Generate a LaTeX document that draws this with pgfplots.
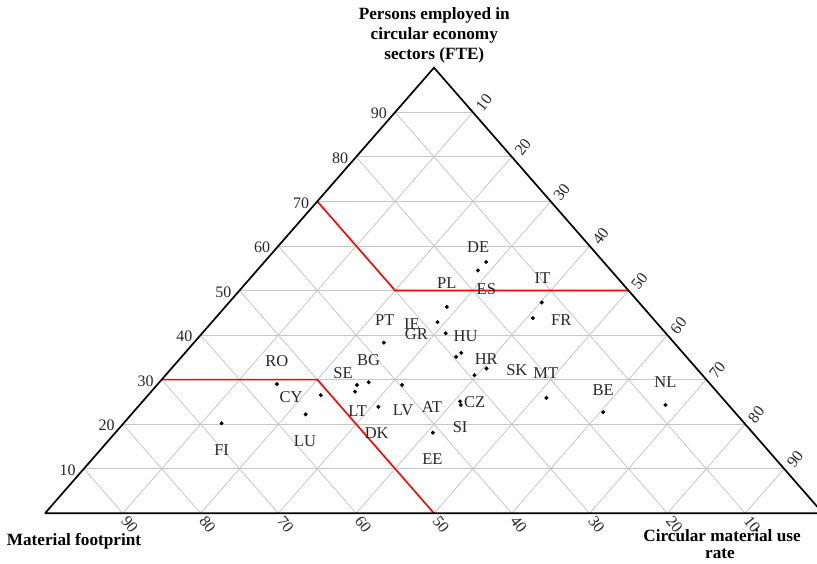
\documentclass[border=0pt]{standalone}
\usepackage{fontspec}
\setmainfont{Liberation Serif}
\usepackage{pgfplots}
\pgfplotsset{compat=1.18}
\usepackage{pgfplotstable}

% P = persons employed (%), C = circular material use rate (%), MF = 100-P-C
% dx, dy = label offset from the dot (pt)
\pgfplotstableread{
name P C dx dy
DE 56.4 28.5 -8 15.3
ES 54.5 28.4 8.4 -19
PL 46.3 28.5 0 23.7
IT 47.3 40.2 0.6 24.4
FR 43.8 40.8 28.4 -2.4
IE 42.9 29.0 -25.6 -1.7
GR 40.4 31.3 -29.3 -1
HU 36.0 35.5 4.3 17
AT 35.1 35.3 -24.3 -50
HR 32.5 40.5 -0.3 9
SK 31.0 39.7 42.4 4.6
PT 38.3 24.4 1 22.7
MT 25.9 51.5 -0.7 24.4
CZ 25.1 40.8 14.5 -0.5
SI 24.3 41.3 -0.7 -22.3
RO 29.0 15.3 0 23.3
CY 26.5 22.2 -29.8 -1.7
LU 22.2 22.4 -0.7 -26.4
SE 28.8 25.7 -14 11.7
DK 27.3 26.2 21.7 -41.6
BG 29.4 26.9 0 22.3
LT 23.9 30.9 -20.7 -4.7
LV 28.8 31.5 1 -25.7
EE 18.1 40.8 -0.4 -26.6
FI 20.2 12.6 0 -26.7
BE 22.7 60.4 0 22.3
NL 24.3 67.6 0 23.3
}\eudata

\begin{document}
\begin{tikzpicture}
\begin{axis}[
  at={(0pt,0pt)}, anchor=south west,
  scale only axis, width=778pt, height=445.6pt,
  xmin=0, xmax=100, ymin=0, ymax=100,
  hide axis, clip=false,
]
% grid: persons employed = const
\addplot[gray!45, line width=0.8pt, forget plot] coordinates {(5,10)(95,10)};
\addplot[gray!45, line width=0.8pt, forget plot] coordinates {(10,20)(90,20)};
\addplot[gray!45, line width=0.8pt, forget plot] coordinates {(15,30)(85,30)};
\addplot[gray!45, line width=0.8pt, forget plot] coordinates {(20,40)(80,40)};
\addplot[gray!45, line width=0.8pt, forget plot] coordinates {(25,50)(75,50)};
\addplot[gray!45, line width=0.8pt, forget plot] coordinates {(30,60)(70,60)};
\addplot[gray!45, line width=0.8pt, forget plot] coordinates {(35,70)(65,70)};
\addplot[gray!45, line width=0.8pt, forget plot] coordinates {(40,80)(60,80)};
\addplot[gray!45, line width=0.8pt, forget plot] coordinates {(45,90)(55,90)};
% grid: circular material use rate = const
\addplot[gray!45, line width=0.8pt, forget plot] coordinates {(10,0)(55,90)};
\addplot[gray!45, line width=0.8pt, forget plot] coordinates {(20,0)(60,80)};
\addplot[gray!45, line width=0.8pt, forget plot] coordinates {(30,0)(65,70)};
\addplot[gray!45, line width=0.8pt, forget plot] coordinates {(40,0)(70,60)};
\addplot[gray!45, line width=0.8pt, forget plot] coordinates {(50,0)(75,50)};
\addplot[gray!45, line width=0.8pt, forget plot] coordinates {(60,0)(80,40)};
\addplot[gray!45, line width=0.8pt, forget plot] coordinates {(70,0)(85,30)};
\addplot[gray!45, line width=0.8pt, forget plot] coordinates {(80,0)(90,20)};
\addplot[gray!45, line width=0.8pt, forget plot] coordinates {(90,0)(95,10)};
% grid: material footprint = const
\addplot[gray!45, line width=0.8pt, forget plot] coordinates {(10,0)(5,10)};
\addplot[gray!45, line width=0.8pt, forget plot] coordinates {(20,0)(10,20)};
\addplot[gray!45, line width=0.8pt, forget plot] coordinates {(30,0)(15,30)};
\addplot[gray!45, line width=0.8pt, forget plot] coordinates {(40,0)(20,40)};
\addplot[gray!45, line width=0.8pt, forget plot] coordinates {(50,0)(25,50)};
\addplot[gray!45, line width=0.8pt, forget plot] coordinates {(60,0)(30,60)};
\addplot[gray!45, line width=0.8pt, forget plot] coordinates {(70,0)(35,70)};
\addplot[gray!45, line width=0.8pt, forget plot] coordinates {(80,0)(40,80)};
\addplot[gray!45, line width=0.8pt, forget plot] coordinates {(90,0)(45,90)};
% red threshold lines
\addplot[red, line width=1.6pt, forget plot] coordinates {(35,70)(45,50)(75,50)};
\addplot[red, line width=1.6pt, forget plot] coordinates {(15,30)(35,30)(50,0)};
% triangle
\addplot[black, line width=1.7pt, forget plot] coordinates {(0,0)(50,100)(100,0)(0,0)};

% tick labels
\begin{scope}[font=\fontsize{16}{18}\selectfont, text=black!85]
% left edge (persons employed)
\path (5,10) ++(-8pt,-1.5pt) node[anchor=east, inner sep=0pt]{10};
\path (10,20) ++(-8pt,-1.5pt) node[anchor=east, inner sep=0pt]{20};
\path (15,30) ++(-8pt,-1.5pt) node[anchor=east, inner sep=0pt]{30};
\path (20,40) ++(-8pt,-1.5pt) node[anchor=east, inner sep=0pt]{40};
\path (25,50) ++(-8pt,-1.5pt) node[anchor=east, inner sep=0pt]{50};
\path (30,60) ++(-8pt,-1.5pt) node[anchor=east, inner sep=0pt]{60};
\path (35,70) ++(-8pt,-1.5pt) node[anchor=east, inner sep=0pt]{70};
\path (40,80) ++(-8pt,-1.5pt) node[anchor=east, inner sep=0pt]{80};
\path (45,90) ++(-8pt,-1.5pt) node[anchor=east, inner sep=0pt]{90};
% right edge (circular material use rate)
\path (55,90) ++(11pt,9.5pt) node[rotate=52, inner sep=0pt]{10};
\path (60,80) ++(11pt,9.5pt) node[rotate=52, inner sep=0pt]{20};
\path (65,70) ++(11pt,9.5pt) node[rotate=52, inner sep=0pt]{30};
\path (70,60) ++(11pt,9.5pt) node[rotate=52, inner sep=0pt]{40};
\path (75,50) ++(11pt,9.5pt) node[rotate=52, inner sep=0pt]{50};
\path (80,40) ++(11pt,9.5pt) node[rotate=52, inner sep=0pt]{60};
\path (85,30) ++(11pt,9.5pt) node[rotate=52, inner sep=0pt]{70};
\path (90,20) ++(11pt,9.5pt) node[rotate=52, inner sep=0pt]{80};
\path (95,10) ++(11pt,9.5pt) node[rotate=52, inner sep=0pt]{90};
% bottom edge (material footprint)
\path (10,0) ++(7pt,-11pt) node[rotate=-52, inner sep=0pt]{90};
\path (20,0) ++(7pt,-11pt) node[rotate=-52, inner sep=0pt]{80};
\path (30,0) ++(7pt,-11pt) node[rotate=-52, inner sep=0pt]{70};
\path (40,0) ++(7pt,-11pt) node[rotate=-52, inner sep=0pt]{60};
\path (50,0) ++(7pt,-11pt) node[rotate=-52, inner sep=0pt]{50};
\path (60,0) ++(7pt,-11pt) node[rotate=-52, inner sep=0pt]{40};
\path (70,0) ++(7pt,-11pt) node[rotate=-52, inner sep=0pt]{30};
\path (80,0) ++(7pt,-11pt) node[rotate=-52, inner sep=0pt]{20};
\path (90,0) ++(7pt,-11pt) node[rotate=-52, inner sep=0pt]{10};
\end{scope}

% countries
\addplot[
  only marks, mark=*, mark size=1.8pt, black,
  point meta=explicit symbolic,
  visualization depends on={\thisrow{dx}\as\dx},
  visualization depends on={\thisrow{dy}\as\dy},
  nodes near coords,
  nodes near coords style={anchor=center, inner sep=0pt,
    font=\fontsize{16.5}{18}\selectfont, text=black!85,
    xshift=\dx*1pt, yshift=\dy*1pt},
] table[x expr=\thisrow{C}+0.5*\thisrow{P}, y expr=\thisrow{P}, meta=name] {\eudata};
\end{axis}

% axis titles
\begin{scope}[font=\bfseries\fontsize{17.2}{18}\selectfont]
\node[anchor=base] at (389.3pt,493.3pt) {Persons employed in};
\node[anchor=base] at (389.3pt,473.3pt) {circular economy};
\node[anchor=base] at (389.3pt,453.3pt) {sectors (FTE)};
\node[anchor=base west, inner sep=0pt] at (-38.3pt,-32.7pt) {Material footprint};
\node[anchor=base] at (677pt,-28.4pt) {Circular material use};
\node[anchor=base] at (675pt,-45pt) {rate};
\end{scope}

\pgfresetboundingbox
\path[use as bounding box] (-45pt,-50.7pt) rectangle (772pt,513.3pt);
\end{tikzpicture}
\end{document}
